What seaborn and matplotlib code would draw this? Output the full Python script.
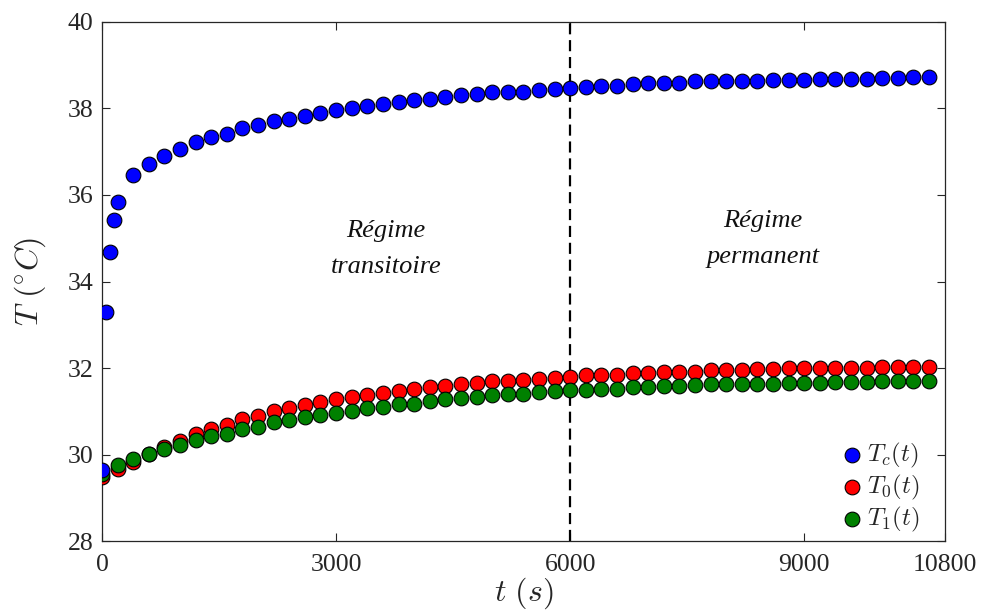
import numpy as np
import pandas as pd
import matplotlib
matplotlib.use("Agg")
import matplotlib.pyplot as plt
import seaborn as sns

# ---- data ----
tc_time = [0, 50, 100, 150, 200] + list(range(400, 10601, 200))
tc_values = [29.64, 33.29, 34.69, 35.42, 35.83,
             36.46, 36.71, 36.91, 37.07, 37.23, 37.33, 37.40, 37.54, 37.62, 37.71,
             37.76, 37.83, 37.89, 37.97, 38.00, 38.06, 38.10, 38.14, 38.20, 38.22,
             38.26, 38.31, 38.34, 38.37, 38.37, 38.39, 38.43, 38.44, 38.47,
             38.49, 38.53, 38.53, 38.56, 38.58, 38.60, 38.60, 38.63, 38.63, 38.63,
             38.64, 38.64, 38.66, 38.66, 38.66, 38.67, 38.67, 38.69, 38.69, 38.71,
             38.70, 38.73, 38.73]

t01_time = list(range(0, 10601, 200))
t0_values = [29.47, 29.66, 29.82, 30.01, 30.18, 30.31, 30.47, 30.60, 30.68, 30.82,
             30.90, 31.01, 31.07, 31.14, 31.22, 31.28, 31.34, 31.38, 31.43, 31.48,
             31.51, 31.57, 31.59, 31.63, 31.66, 31.69, 31.71, 31.72, 31.75, 31.78,
             31.80, 31.84, 31.84, 31.85, 31.88, 31.89, 31.90, 31.91, 31.91, 31.95,
             31.95, 31.96, 31.97, 31.97, 31.99, 31.99, 31.99, 32.01, 32.00, 32.00,
             32.02, 32.02, 32.02, 32.03]
t1_values = [29.55, 29.77, 29.90, 30.01, 30.13, 30.23, 30.33, 30.42, 30.47, 30.58,
             30.64, 30.75, 30.80, 30.86, 30.92, 30.97, 31.01, 31.07, 31.11, 31.16,
             31.18, 31.24, 31.28, 31.31, 31.34, 31.37, 31.40, 31.41, 31.45, 31.48,
             31.49, 31.49, 31.51, 31.52, 31.55, 31.56, 31.58, 31.58, 31.60, 31.62,
             31.62, 31.62, 31.64, 31.64, 31.66, 31.66, 31.66, 31.68, 31.68, 31.68,
             31.69, 31.69, 31.69, 31.70]

series_labels = [r"$T_c(t)$", r"$T_0(t)$", r"$T_1(t)$"]
series_colors = ["#0000FF", "#FF0000", "#008000"]
x_ticks = [0, 3000, 6000, 9000, 10800]
y_ticks = [28, 30, 32, 34, 36, 38, 40]
t_switch = 6000

# ---- style ----
sns.set_style("ticks")
plt.rcParams["font.family"] = ["Liberation Serif", "DejaVu Serif"]
plt.rcParams["mathtext.fontset"] = "cm"

fig = plt.figure(figsize=(9.81, 6.10), dpi=100)
ax = fig.add_axes([0.104, 0.113, 0.859, 0.851])

df = pd.concat([
    pd.DataFrame({"t": tc_time, "T": tc_values, "s": series_labels[0]}),
    pd.DataFrame({"t": t01_time, "T": t0_values, "s": series_labels[1]}),
    pd.DataFrame({"t": t01_time, "T": t1_values, "s": series_labels[2]}),
])

zorders = [5, 3, 4]
for lab, col, z in zip(series_labels, series_colors, zorders):
    sns.scatterplot(data=df[df["s"] == lab], x="t", y="T", color=col, s=112,
                    edgecolor="black", linewidth=0.8, ax=ax, label=lab, zorder=z)

ax.axvline(t_switch, color="black", lw=1.6, ls=(0, (5, 2.6)), zorder=2)

ax.set_xlim(0, 10800)
ax.set_ylim(28, 40)
ax.set_xticks(x_ticks)
ax.set_yticks(y_ticks)
ax.tick_params(direction="in", length=6, width=0.8, top=True, right=True,
               labelsize=18.5, colors="#262626")
ax.tick_params(axis="x", pad=9)
ax.tick_params(axis="y", pad=6)
for sp in ax.spines.values():
    sp.set_color("#262626")
    sp.set_linewidth(0.9)

ax.set_xlabel(r"$t\ (s)$", fontsize=23, labelpad=0, color="#262626")
ax.set_ylabel(r"$T\ (^{\circ}C)$", fontsize=23, labelpad=14, color="#262626")

ax.text(3640, 34.75, "Régime\ntransitoire", style="italic", fontsize=19,
        ha="center", va="center", linespacing=1.8, color="#111111")
ax.text(8470, 34.98, "Régime\npermanent", style="italic", fontsize=19,
        ha="center", va="center", linespacing=1.8, color="#111111")

leg = ax.legend(loc="lower right", frameon=False, fontsize=18, handletextpad=0.0,
                labelspacing=0.1, borderaxespad=0.0, handlelength=1.2,
                bbox_to_anchor=(0.982, -0.005))

fig.savefig("out.png", dpi=100)
